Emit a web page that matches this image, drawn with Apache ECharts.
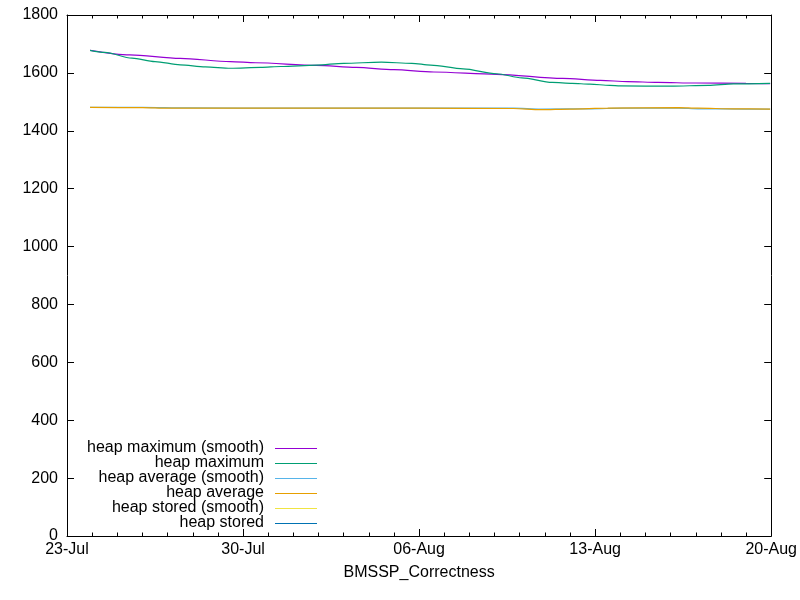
<!DOCTYPE html>
<html>
<head>
<meta charset="utf-8">
<script src="https://cdn.jsdelivr.net/npm/echarts@6/dist/echarts.min.js"></script>
<style>html,body{margin:0;padding:0;background:#fff}#c{width:800px;height:600px}</style>
</head>
<body>
<div id="c"></div>
<script>
// ---- data ----
var baseDate = '2025-07-23T00:00Z';
var xTickLabels = ['23-Jul', '30-Jul', '06-Aug', '13-Aug', '20-Aug'];
var seriesNames = ['heap maximum (smooth)', 'heap maximum', 'heap average (smooth)', 'heap average', 'heap stored (smooth)', 'heap stored'];
var seriesColors = ['#9400d3', '#009e73', '#56b4e9', '#e69f00', '#f0e442', '#0072b2'];

var maxSmoothTimes = ['2025-07-23T22:00Z','2025-07-25T12:00Z','2025-07-27T12:00Z','2025-07-29T12:00Z','2025-07-30T12:00Z','2025-08-01T22:00Z','2025-08-03T12:00Z','2025-08-05T00:00Z','2025-08-06T14:00Z','2025-08-09T02:00Z','2025-08-11T17:00Z','2025-08-13T05:00Z','2025-08-14T07:00Z','2025-08-15T12:00Z','2025-08-17T00:00Z','2025-08-19T00:00Z','2025-08-19T23:00Z'];
var maxSmoothValues = [1678,1662,1650,1639,1635,1626,1619,1611,1603,1595,1581,1574,1570,1567,1565,1564,1563];

var maxTimes = ['2025-07-23T22:00Z','2025-07-24T12:00Z','2025-07-25T14:00Z','2025-07-26T12:00Z','2025-07-27T12:00Z','2025-07-28T12:00Z','2025-07-29T12:00Z','2025-07-30T17:00Z','2025-07-31T12:00Z','2025-08-01T22:00Z','2025-08-03T00:00Z','2025-08-04T12:00Z','2025-08-05T17:00Z','2025-08-06T11:00Z','2025-08-07T18:00Z','2025-08-09T02:00Z','2025-08-10T02:00Z','2025-08-11T07:00Z','2025-08-12T02:00Z','2025-08-12T19:00Z','2025-08-13T14:00Z','2025-08-14T00:00Z','2025-08-16T00:00Z','2025-08-17T12:00Z','2025-08-18T12:00Z','2025-08-19T23:00Z'];
var maxValues = [1678,1671,1651,1639,1628,1621,1616,1619,1622,1627,1633,1637,1633,1627,1614,1597,1583,1567,1564,1561,1557,1555,1554,1557,1562,1564];

var avgSmoothTimes = ['2025-07-23T22:00Z','2025-07-26T00:00Z','2025-07-27T18:00Z','2025-08-01T00:00Z','2025-08-06T00:00Z','2025-08-07T18:00Z','2025-08-09T18:00Z','2025-08-10T20:00Z','2025-08-12T20:00Z','2025-08-14T02:00Z','2025-08-16T08:00Z','2025-08-17T02:00Z','2025-08-19T00:00Z','2025-08-19T23:00Z'];
var avgSmoothValues = [1481,1481,1479,1478,1478,1478,1478,1475,1476,1478,1478,1476,1475,1475];

var avgTimes = ['2025-07-23T22:00Z','2025-07-26T00:00Z','2025-07-27T00:00Z','2025-08-01T00:00Z','2025-08-06T00:00Z','2025-08-09T18:00Z','2025-08-10T20:00Z','2025-08-12T00:00Z','2025-08-13T12:00Z','2025-08-16T08:00Z','2025-08-17T02:00Z','2025-08-18T12:00Z','2025-08-19T23:00Z'];
var avgValues = [1481,1480,1478,1478,1478,1477,1473,1475,1478,1480,1478,1476,1475];

var storedSmoothTimes = [];
var storedSmoothValues = [];
var storedTimes = [];
var storedValues = [];

// ---- build ----
var DAY = 86400000;
var base = Date.parse(baseDate);
function pairs(times, values) {
  return times.map(function (t, i) { return [(Date.parse(t) - base) / DAY, values[i]]; });
}
var allData = [
  pairs(maxSmoothTimes, maxSmoothValues),
  pairs(maxTimes, maxValues),
  pairs(avgSmoothTimes, avgSmoothValues),
  pairs(avgTimes, avgValues),
  pairs(storedSmoothTimes, storedSmoothValues),
  pairs(storedTimes, storedValues)
];
var FONT = '"Liberation Sans", Arial, sans-serif';

var series = allData.map(function (d, i) {
  return {
    name: seriesNames[i], type: 'line', data: d, showSymbol: false,
    smooth: 0.3, smoothMonotone: 'x',
    lineStyle: { color: seriesColors[i], width: 1.2 },
    itemStyle: { color: seriesColors[i] },
    z: 2 + i
  };
});

var graphics = [];
seriesNames.forEach(function (n, i) {
  var y = 448 + i * 15;
  graphics.push({ type: 'text', x: 264, y: y, style: { text: n, fill: '#000', font: '16px ' + FONT, textAlign: 'right', textVerticalAlign: 'middle' } });
  graphics.push({ type: 'line', shape: { x1: 275, y1: y + 0.5, x2: 317, y2: y + 0.5 }, style: { stroke: seriesColors[i], lineWidth: 1 } });
});

function xAxisCfg(pos, labels) {
  return {
    type: 'value', position: pos, min: 0, max: 28, interval: 7,
    axisLine: { show: true, onZero: false, lineStyle: { color: '#000', width: 1 } },
    axisTick: { show: true, inside: true, length: 7, lineStyle: { color: '#000' } },
    minorTick: { show: true, splitNumber: 7, length: 3.5, lineStyle: { color: '#000' } },
    splitLine: { show: false },
    axisLabel: {
      show: labels, margin: 6, color: '#000', fontSize: 16, fontFamily: FONT,
      formatter: function (v) { var k = Math.round(v / 7); return xTickLabels[k] || ''; }
    },
    name: labels ? 'BMSSP_Correctness' : '', nameLocation: 'middle', nameGap: 29,
    nameTextStyle: { color: '#000', fontSize: 16, fontFamily: FONT }
  };
}
function yAxisCfg(pos, labels) {
  return {
    type: 'value', position: pos, min: 0, max: 1800, interval: 200,
    axisLine: { show: true, onZero: false, lineStyle: { color: '#000', width: 1 } },
    axisTick: { show: true, inside: true, length: 7, lineStyle: { color: '#000' } },
    splitLine: { show: false },
    axisLabel: { show: labels, margin: 9, color: '#000', fontSize: 16, fontFamily: FONT,
      formatter: function (v) { return String(v); } }
  };
}

var chart = echarts.init(document.getElementById('c'), null, { renderer: 'canvas' });
chart.setOption({
  animation: false,
  backgroundColor: '#fff',
  grid: { left: 67, right: 28, top: 15, bottom: 64, containLabel: false },
  xAxis: [xAxisCfg('bottom', true), xAxisCfg('top', false)],
  yAxis: [yAxisCfg('left', true), yAxisCfg('right', false)],
  series: series,
  graphic: graphics
});
</script>
</body>
</html>
